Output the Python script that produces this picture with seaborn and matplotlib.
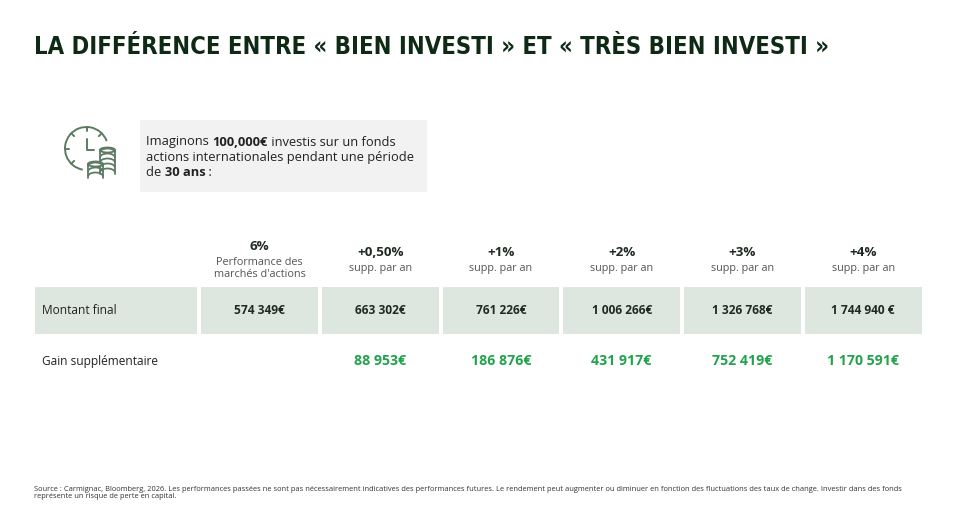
import numpy as np
import pandas as pd
import matplotlib
matplotlib.use("Agg")
import matplotlib.pyplot as plt
from matplotlib.colors import ListedColormap
from matplotlib.patches import Rectangle, Arc, Ellipse
import seaborn as sns

# ---------------- data ----------------
title = "LA DIFFÉRENCE ENTRE « BIEN INVESTI » ET « TRÈS BIEN INVESTI »"
col_top = ["6%", "+0,50%", "+1%", "+2%", "+3%", "+4%"]
col_sub = ["Performance des\nmarchés d'actions", "supp. par an", "supp. par an",
           "supp. par an", "supp. par an", "supp. par an"]
row_labels = ["Montant final", "Gain supplémentaire"]
montant_final = ["574 349€", "663 302€", "761 226€", "1 006 266€", "1 326 768€", "1 744 940 €"]
gain_supp = ["", "88 953€", "186 876€", "431 917€", "752 419€", "1 170 591€"]
intro_lines = [
    [("Imaginons ", False), ("100,000€", True), (" investis sur un fonds", False)],
    [("actions internationales pendant une période", False)],
    [("de ", False), ("30 ans", True), (" :", False)],
]
footnote = ("Source : Carmignac, Bloomberg, 2026. Les performances passées ne sont pas nécessairement "
            "indicatives des performances futures. Le rendement peut augmenter ou diminuer en fonction "
            "des fluctuations des taux de change. Investir dans des fonds\nreprésente un risque de perte en capital.")

# ---------------- style ----------------
W, H = 959, 508
DARK = "#0f2a14"
VAL = "#1e2b22"
GREEN = "#22a24c"
BAND = "#dde6df"
BOXGRAY = "#f2f2f2"
ICON = "#5d7b63"

sns.set_theme(style="white")
plt.rcParams["font.family"] = ["Open Sans", "DejaVu Sans"]

fig = plt.figure(figsize=(W / 100, H / 100), dpi=100)
fig.patch.set_facecolor("white")
fig.canvas.draw()
r = fig.canvas.get_renderer()

def px_axes(x0, y0, x1, y1):
    return fig.add_axes([x0 / W, 1 - y1 / H, (x1 - x0) / W, (y1 - y0) / H])

# background axes in pixel coordinates
bg = px_axes(0, 0, W, H)
bg.set_xlim(0, W)
bg.set_ylim(H, 0)
bg.axis("off")

# title fitted to the reference width
tt = bg.text(34, 47, title, fontsize=21, fontweight="bold", color=DARK,
             family=["DejaVu Sans"], fontstretch="condensed", va="center", ha="left")
w0 = tt.get_window_extent(renderer=r).width
tt.set_fontsize(21 * 792 / w0)

# info box
bg.add_patch(Rectangle((140, 120), 287, 72, facecolor=BOXGRAY, edgecolor="none"))
fs_box = 9.3
def raw_w(txt, bold):
    t = bg.text(0, 0, txt, fontsize=fs_box, fontweight="bold" if bold else "normal")
    wdt = t.get_window_extent(renderer=r).width
    t.remove()
    return wdt
def width_of(txt, bold):
    return raw_w("I" + txt + "I", bold) - raw_w("II", bold)
for k, parts in enumerate(intro_lines):
    x = 146
    y = 142 + k * 15.5
    for txt, bold in parts:
        bg.text(x, y, txt, fontsize=fs_box, color="#222", va="center",
                fontweight="bold" if bold else "normal")
        x += width_of(txt, bold)

# icon: clock + coins
cx, cy, rr = 86.5, 148.5, 21.5
bg.add_patch(Arc((cx, cy), 2 * rr, 2 * rr, theta1=100, theta2=340, color=ICON, lw=1.4))
bg.add_patch(Arc((cx, cy), 2 * rr, 2 * rr, theta1=40, theta2=80, color=ICON, lw=1.4))
for ang in [90, 135, 180, 225, 45]:
    a = np.deg2rad(ang)
    bg.plot([cx + (rr - 4) * np.cos(a), cx + rr * np.cos(a)],
            [cy - (rr - 4) * np.sin(a), cy - rr * np.sin(a)], color=ICON, lw=1.4)
bg.plot([cx, cx, cx + 7], [cy - 10, cy + 1.5, cy + 1.5], color=ICON, lw=1.4, solid_capstyle="round")
def coin_stack(x, ytop, w, n, h=5.0):
    bg.add_patch(Rectangle((x - w / 2 - 1.5, ytop - 3), w + 3, n * h + 5, facecolor="white",
                           edgecolor="none", zorder=2))
    bg.add_patch(Ellipse((x, ytop), w, 5.0, facecolor="white", edgecolor=ICON, lw=1.3, zorder=3))
    bg.plot([x - w / 2, x - w / 2], [ytop, ytop + n * h - 1], color=ICON, lw=1.3, zorder=3)
    bg.plot([x + w / 2, x + w / 2], [ytop, ytop + n * h - 1], color=ICON, lw=1.3, zorder=3)
    for k in range(1, n + 1):
        bg.add_patch(Arc((x, ytop + (k - 1) * h + h / 2), w, h * 1.6, theta1=180, theta2=360,
                         color=ICON, lw=1.3, zorder=3))
coin_stack(107.5, 150, 15, 5)
coin_stack(95.5, 164, 15, 3)

# footnote
bg.text(34, 493, footnote, fontsize=5.45, color="#333", va="center", ha="left", linespacing=1.15)

# ---------------- table (heatmaps) ----------------
row_h = 51
y_top = 259 - row_h / 2
y_bot = 361 + row_h / 2
grid = pd.DataFrame([[0] * 6, [1] * 6, [0] * 6], columns=col_top)
cmap = ListedColormap(["white", BAND])

ax_lab = px_axes(33, y_top, 199, y_bot)
sns.heatmap(pd.DataFrame([[0], [1], [0]]), ax=ax_lab, cmap=cmap, vmin=0, vmax=1,
            cbar=False, linewidths=1.5, linecolor="white", xticklabels=False, yticklabels=False)
for i, lab in enumerate(row_labels):
    ax_lab.text(0.055, i + 1.5, lab, fontsize=8.6, color="#222", va="center", ha="left")

ax_t = px_axes(199, y_top, 923.5, y_bot)
sns.heatmap(grid, ax=ax_t, cmap=cmap, vmin=0, vmax=1, cbar=False,
            linewidths=1.5, linecolor="white", xticklabels=False, yticklabels=False)
for j in range(6):
    if j == 0:
        ax_t.text(j + 0.5, 0.25, col_top[j], fontsize=9.6, fontweight="bold", color=VAL,
                  ha="center", va="center")
        ax_t.text(j + 0.5, 0.68, col_sub[j], fontsize=7.8, color="#555", ha="center",
                  va="center", linespacing=1.15)
    else:
        ax_t.text(j + 0.5, 0.37, col_top[j], fontsize=9.6, fontweight="bold", color=VAL,
                  ha="center", va="center")
        ax_t.text(j + 0.5, 0.69, col_sub[j], fontsize=7.8, color="#555", ha="center", va="center")
    ax_t.text(j + 0.5, 1.5, montant_final[j], fontsize=8.6, fontweight="bold", color=VAL,
              ha="center", va="center")
    if gain_supp[j]:
        ax_t.text(j + 0.5, 2.5, gain_supp[j], fontsize=10.2, fontweight="bold", color=GREEN,
                  ha="center", va="center")

fig.savefig("out.png", dpi=100, facecolor="white")
